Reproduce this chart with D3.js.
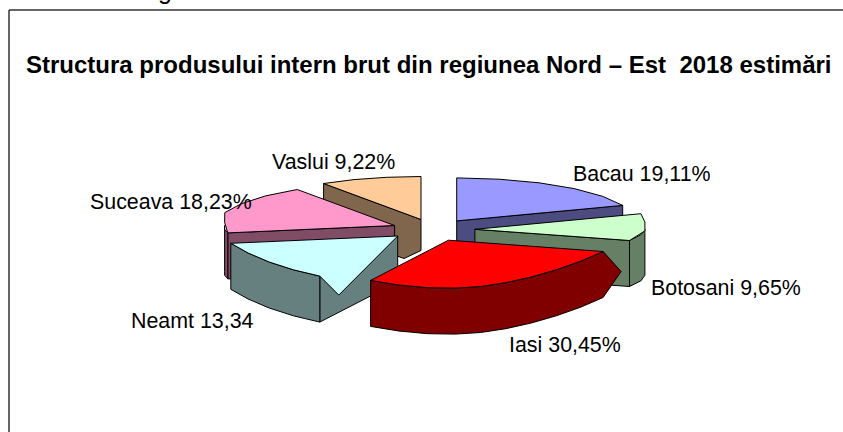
<!DOCTYPE html>
<html>
<head>
<meta charset="utf-8">
<script src="https://d3js.org/d3.v7.min.js"></script>
<style>
  html, body { margin: 0; padding: 0; background: #fff; overflow: hidden; }
  text { font-family: "Liberation Sans", Arial, sans-serif; fill: #000; }
</style>
</head>
<body>
<svg id="chart" width="843" height="432" style="display:block"></svg>
<script>
// data
var regions = ["Bacau", "Botosani", "Iasi", "Neamt", "Suceava", "Vaslui"];
var shares = [19.11, 9.65, 30.45, 13.34, 18.23, 9.22];
var labels = ["Bacau 19,11%", "Botosani 9,65%", "Iasi 30,45%", "Neamt 13,34", "Suceava 18,23%", "Vaslui 9,22%"];
var topColors = ["#9999ff", "#ccffcc", "#ff0000", "#ccffff", "#ff99cc", "#ffcc99"];
var wallColors = ["#4c4c80", "#668066", "#800000", "#668080", "#804c66", "#80664c"];
var titleText = "Structura produsului intern brut din regiunea Nord \u2013 Est  2018 estim\u0103ri";

// label spots are placed by hand, like the original
var labelPos = [[573, 181], [651, 295], [509, 352], [131, 328], [90, 209], [272, 169]];

// the 3d pie is an ellipse squashed on screen
var center = { x: 433, y: 230 };
var radius = { x: 178, yBack: 43, yFront: 48 };
var maxReach = 170;
var explode = { x: 42, y: 11 };
var depth = 46;
var squashRight = 0.34, squashLeft = 0.23;

var svg = d3.select("#chart");

// frame, only top and left show in the crop
svg.append("line").attr("x1", 9).attr("x2", 843).attr("y1", 10).attr("y2", 10)
   .attr("stroke", "#333").attr("stroke-width", 1.5);
svg.append("line").attr("x1", 9).attr("x2", 9).attr("y1", 10).attr("y2", 432)
   .attr("stroke", "#333").attr("stroke-width", 1.5);

// bottom of a line of text cut off above the frame
svg.append("text").attr("x", 158).attr("y", -1).attr("font-size", 25).text("g");

svg.append("text").attr("x", 26).attr("y", 73).attr("font-size", 24).attr("font-weight", "bold")
   .style("white-space", "pre").text(titleText);

var pie = d3.pie().sort(null).value(function(d){ return d; });
var arcs = pie(shares);

// x/y from angle (0 = up, clockwise)
var xScale = d3.scaleLinear().domain([-1, 1]).range([-radius.x, radius.x]);
var yScale = d3.scaleLinear().domain([-1, 0, 1]).range([-radius.yBack, 0, radius.yFront]);
var reach = d3.scaleLinear().domain([-maxReach, maxReach]).range([-maxReach, maxReach]).clamp(true);

var apex = function(d){
  var mid = (d.startAngle + d.endAngle) / 2;
  return [center.x + explode.x * Math.sin(mid), center.y - explode.y * Math.cos(mid)];
}
var rimPoint = function(d, a){
  var c = apex(d);
  var sin = Math.sin(a), cos = Math.cos(a);
  var k = sin > 0 ? squashRight : squashLeft;
  var squash = cos < 0 ? 1 - k * Math.pow(-cos, 0.8) : 1; // front half is narrower in the original
  return [c[0] + reach(xScale(sin) * squash), c[1] + yScale(-cos)];
}
var rim = function(d, a0, a1){
  var n = Math.max(2, Math.round((a1 - a0) / 0.22));
  return d3.range(n + 1).map(function(i){ return rimPoint(d, a0 + (a1 - a0) * i / n); });
}
var down = function(p){ return [p[0], p[1] + depth]; }
var shift = function(p, dx, dy){ return [p[0] + dx, p[1] + dy]; }
var path = function(pts){ return "M" + pts.map(function(p){ return p[0].toFixed(1) + "," + p[1].toFixed(1); }).join("L") + "Z"; }

var drawPoly = function(g, pts, fill){
  g.append("path").attr("d", path(pts)).attr("fill", fill).attr("stroke", "#000")
   .attr("stroke-width", 1).attr("stroke-linejoin", "round");
}

// back to front
var order = [5, 4, 0, 1, 3, 2];

order.forEach(function(idx){
  var d = arcs[idx];
  var name = regions[idx];
  var g = svg.append("g").attr("class", name);
  var c = apex(d);
  var wall = wallColors[idx];

  // cut faces that look at the viewer
  if (d.startAngle > Math.PI) {
    var s = rimPoint(d, d.startAngle);
    if (name == "Vaslui") {
      // original has a bite out of the bottom corner here
      drawPoly(g, [c, s, down(s), shift(down(c), -17, -7), shift(c, 0, 31)], wall);
    } else {
      drawPoly(g, [c, s, down(s), down(c)], wall);
    }
  }
  if (d.endAngle < Math.PI) {
    var e = rimPoint(d, d.endAngle);
    drawPoly(g, [c, e, down(e), down(c)], wall);
  }
  // outer wall, front half only
  var a0 = Math.max(d.startAngle, Math.PI / 2);
  var a1 = Math.min(d.endAngle, Math.PI * 1.5);
  if (a1 > a0) {
    var top = rim(d, a0, a1);
    var bottom = top.map(down).reverse();
    if (name == "Iasi") {
      // the pointed edge on the right of the red slice
      bottom.push(shift(top[0], 18, 20));
    }
    drawPoly(g, top.concat(bottom), wall);
  }
  // top face
  var face = rim(d, d.startAngle, d.endAngle);
  if (name == "Neamt") {
    // the cyan top runs past its rim at the front
    face.unshift(shift(face[0], 19, 19));
  }
  drawPoly(g, [c].concat(face), topColors[idx]);
});

svg.selectAll("text.lab").data(labels).enter().append("text").attr("class", "lab")
   .attr("x", function(d, i){ return labelPos[i][0]; })
   .attr("y", function(d, i){ return labelPos[i][1]; })
   .attr("font-size", 21.4).text(function(d){ return d; });
</script>
</body>
</html>
